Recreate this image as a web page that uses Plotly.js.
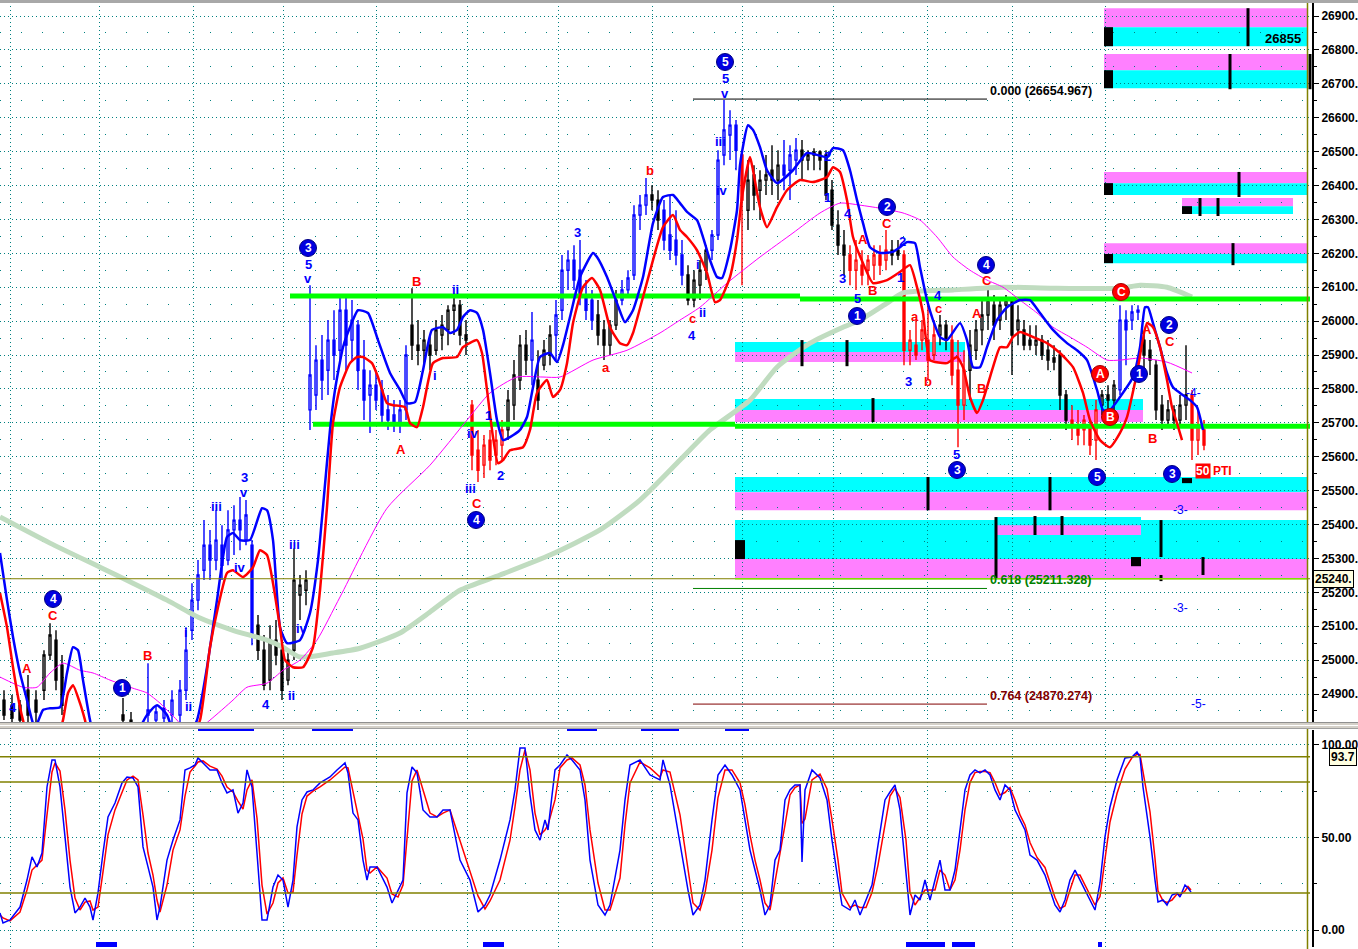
<!DOCTYPE html>
<html><head><meta charset="utf-8">
<script src="https://cdn.plot.ly/plotly-3.0.1.min.js"></script>
<style>html,body{margin:0;padding:0;background:#fff}#chart{width:1358px;height:949px}</style>
</head><body><div id="chart"></div>
<script>
// ---------------- DATA ----------------
const barX = [4,12,20,28,36,44,50,56,62,123,131,148,156,164,172,180,186,192,198,204,210,216,222,228,234,240,246,252,258,264,270,276,282,288,294,300,306,310,316,322,328,334,340,346,352,358,364,370,376,382,388,394,400,406,412,418,424,430,436,442,448,454,460,466,472,478,484,490,496,502,508,514,520,526,532,538,544,550,556,562,568,574,580,586,592,598,604,610,616,622,628,634,640,646,652,658,664,670,676,682,688,694,700,706,712,718,724,730,736,742,748,754,760,766,772,778,784,790,796,802,808,814,820,826,832,838,844,850,856,862,868,874,880,886,892,898,904,910,916,922,928,934,940,946,952,958,964,970,976,982,988,994,1000,1006,1012,1018,1024,1030,1036,1042,1048,1054,1060,1066,1072,1078,1084,1090,1096,1102,1108,1114,1120,1126,1132,1138,1144,1150,1156,1162,1168,1174,1180,1186,1192,1198,1204];
const barOpen = [24882,24867,24867,24911,24882,24911,25015,25059,24985,24838,24823,24838,24823,24829,24838,24838,24911,25088,25177,25265,25339,25295,25339,25295,25384,25413,25354,25339,25103,25029,24941,25059,25029,24941,25029,25192,25206,25738,25782,25885,25855,25944,25914,26032,25944,25988,25855,25782,25811,25797,25738,25723,25693,25738,25988,25929,25914,25929,25914,25959,25974,26032,26047,25959,25752,25619,25575,25649,25605,25634,25679,25752,25826,25929,25885,25826,25870,25900,25959,26032,26150,26180,26150,26077,26062,26018,25974,25929,25988,26062,26092,26136,26313,26342,26372,26357,26327,26254,26239,26195,26136,26062,26106,26150,26209,26254,26490,26549,26578,26490,26327,26431,26386,26416,26445,26416,26460,26445,26475,26504,26475,26490,26499,26490,26386,26283,26224,26195,26150,26165,26150,26165,26195,26180,26209,26209,26195,25914,25929,25944,25944,25900,25959,25988,25944,25855,25752,25855,25914,25974,26018,26047,26003,26047,26062,25974,25974,25944,25929,25944,25914,25891,25900,25782,25708,25693,25679,25693,25649,25752,25782,25767,25797,26003,26003,26027,25944,25914,25870,25752,25708,25738,25708,25752,25782,25649,25679];
const barHigh = [24911,24897,24882,24956,24911,25029,25109,25088,25015,24888,24847,24991,24867,24882,24911,24941,25097,25227,25295,25413,25384,25442,25398,25442,25457,25481,25472,25354,25133,25074,25103,25118,25059,25029,25330,25251,25265,26106,25929,25959,26003,26032,26077,26071,26062,26003,25944,25855,25855,25826,25782,25767,25767,25929,26097,26003,25974,25959,26003,26018,26047,26077,26062,26003,25767,25679,25664,25679,25679,25708,25797,25885,25959,25974,26027,25914,25944,25988,26062,26195,26209,26224,26239,26121,26092,26062,26003,26003,26092,26121,26150,26342,26372,26422,26401,26386,26357,26372,26327,26239,26165,26150,26180,26224,26269,26504,26652,26622,26593,26504,26475,26460,26445,26490,26519,26504,26534,26519,26540,26534,26504,26510,26504,26504,26416,26327,26269,26224,26239,26209,26195,26224,26224,26269,26239,26239,26209,25974,26003,26003,26062,26003,26018,26003,25988,25944,25914,25974,26003,26062,26092,26077,26062,26077,26062,26047,26003,25988,25988,25959,25944,25929,25914,25797,25752,25738,25723,25708,25767,25797,25811,25826,26047,26032,26047,26047,25959,25944,25885,25782,25767,25752,25782,25929,25797,25738,25708];
const barLow = [24823,24817,24817,24817,24817,24882,25000,24911,24838,24808,24794,24808,24808,24808,24808,24817,24882,25059,25147,25236,25236,25265,25236,25280,25310,25324,25339,25044,25000,24911,24911,24985,24882,24926,25000,25118,25162,25679,25738,25767,25782,25826,25885,25855,25885,25797,25708,25670,25738,25693,25679,25673,25670,25708,25885,25870,25870,25855,25900,25914,25929,25959,25929,25900,25560,25525,25537,25560,25575,25590,25649,25708,25797,25841,25811,25738,25855,25870,25885,26003,26092,26092,26047,26003,25974,25929,25885,25900,25974,26047,26077,26121,26269,26313,26327,26269,26209,26180,26165,26106,26047,26041,26062,26121,26180,26239,26460,26475,26445,26106,26269,26327,26298,26372,26372,26357,26386,26357,26431,26416,26445,26445,26445,26357,26269,26195,26136,26106,26092,26106,26106,26121,26136,26150,26165,26180,25870,25870,25885,25914,25826,25885,25929,25914,25811,25628,25708,25767,25885,25929,25974,25944,25974,26003,25841,25929,25914,25914,25900,25885,25855,25855,25738,25679,25649,25634,25634,25605,25590,25723,25738,25738,25782,25870,25974,26003,25855,25841,25708,25679,25693,25679,25693,25708,25590,25605,25619];
const barClose = [24838,24829,24823,24838,24847,25015,25074,24941,24867,24823,24808,24853,24847,24858,24882,24911,25029,25177,25251,25339,25295,25354,25280,25384,25413,25384,25428,25074,25029,24926,25059,25015,24911,25000,25236,25221,25236,25841,25885,25826,25944,25900,26032,25929,26003,25855,25767,25811,25767,25723,25708,25693,25738,25900,25929,25914,25944,25900,25974,25988,26032,26047,25959,25944,25605,25560,25634,25590,25649,25679,25767,25841,25929,25885,25944,25767,25914,25959,26018,26150,26180,26121,26077,26032,26003,25959,25929,25988,26062,26092,26127,26313,26342,26372,26357,26298,26239,26209,26195,26136,26062,26121,26150,26209,26254,26475,26564,26578,26504,26357,26416,26372,26416,26431,26416,26460,26431,26490,26504,26475,26490,26499,26475,26372,26283,26224,26195,26150,26180,26136,26180,26195,26165,26209,26195,26195,25914,25944,25900,25974,25885,25959,25988,25944,25841,25752,25855,25929,25974,26018,26062,25988,26047,26062,25959,26003,25929,25929,25944,25900,25885,25879,25782,25708,25693,25664,25708,25634,25738,25782,25767,25811,26003,25974,26027,26032,25900,25885,25738,25708,25738,25708,25752,25782,25649,25693,25634];
// candle colour group: k = black/white, b = blue wave, r = red wave
const barGroup = ("kkkkkkkkkkk" + "bbbbbbbbbbbbbbbbb" + "kkkkkkkkk" + "bbbbbbbbbbbbbbbbb" + "kkkkkkkkkk" + "rrrrrr" +
  "kkkk" + "b" + "kkk" + "bbbbbbb" + "kkkk" + "bbbbb" + "kk" + "bbbb" + "kkkk" + "bbbbb" + "r" + "kkkkkk" + "bbb" +
  "kkkkkkkk" + "rrrrrrr" + "kk" + "rrrrrr" + "kk" + "rrr" + "kkkkkkkkkkkkkkkkk" + "rrrrr" + "kkk" + "bbbb" + "kkkkkkkk" + "rrr").split('');

// upper (blue) band
const upperX = [0,7,13,20,27,32,35,43,50,60,67,73,78,83,90,95,120,147,157,167,180,197,207,217,227,233,240,250,262,267,273,280,287,300,310,318,323,330,335,343,350,358,368,378,390,400,407,415,423,432,443,450,457,463,470,477,483,490,497,503,510,520,527,533,540,550,557,563,570,580,593,597,607,617,625,633,643,653,663,673,680,687,697,703,710,717,722,730,737,740,748,753,760,767,777,793,807,827,833,843,850,857,863,870,880,893,900,907,915,920,927,933,940,947,960,967,973,980,987,997,1007,1020,1030,1040,1053,1067,1077,1087,1097,1103,1110,1120,1133,1140,1145,1148,1153,1160,1167,1173,1180,1190,1197,1203];
const upperBand = [25316,25177,25068,24962,24882,24823,24799,24853,24858,24861,24962,25038,25029,24941,24823,24764,24705,24838,24867,24838,24735,24823,24979,25177,25363,25375,25354,25354,25448,25442,25354,25097,25050,25059,25139,25295,25451,25679,25797,25923,25982,26032,26024,25944,25847,25797,25758,25761,25855,25974,25982,25965,25974,26012,26032,26024,25974,25847,25708,25649,25658,25679,25717,25805,25894,25906,25879,25929,26012,26130,26201,26189,26130,26053,25997,26032,26130,26289,26366,26372,26348,26322,26298,26248,26180,26130,26127,26209,26327,26460,26578,26564,26513,26445,26407,26445,26496,26484,26510,26504,26445,26357,26289,26218,26201,26204,26218,26233,26230,26159,26062,26003,25953,25944,25994,25944,25864,25864,25923,26003,26041,26062,26062,26024,25974,25935,25914,25885,25797,25738,25738,25776,25835,25923,26041,26041,25994,25923,25847,25805,25788,25767,25746,25679];
// lower (red) band
const lowerX = [0,7,13,20,23,30,55,63,68,73,80,85,90,190,200,210,218,227,233,243,253,260,267,273,280,285,293,303,313,320,327,333,340,350,357,363,372,378,387,393,405,410,417,423,433,443,457,463,477,482,487,493,498,503,510,523,530,537,547,553,560,567,573,583,592,600,610,620,627,633,643,653,663,673,680,687,697,707,715,720,730,737,742,750,753,760,767,777,787,800,813,827,833,840,847,853,863,873,887,900,910,917,923,930,947,957,963,970,977,983,993,1000,1007,1013,1020,1033,1047,1060,1073,1083,1090,1100,1110,1120,1127,1137,1147,1153,1160,1167,1172,1177,1182];
const lowerBand = [25198,25097,24979,24861,24823,24749,24749,24823,24903,24926,24873,24823,24764,24764,24823,25038,25156,25257,25265,25245,25274,25324,25310,25227,25097,25000,24979,24979,25038,25206,25451,25699,25805,25876,25894,25894,25876,25835,25758,25752,25746,25699,25687,25746,25876,25891,25894,25923,25944,25906,25797,25658,25581,25590,25619,25628,25679,25788,25826,25776,25797,25876,25994,26100,26127,26092,25982,25935,25929,25965,26071,26180,26277,26313,26269,26248,26209,26142,26056,26062,26130,26239,26366,26484,26445,26336,26277,26336,26386,26416,26410,26425,26454,26440,26357,26248,26171,26112,26121,26145,26165,26100,26024,25885,25876,25894,25864,25776,25729,25767,25864,25923,25923,25953,25968,25953,25935,25906,25864,25788,25708,25649,25628,25670,25717,25847,25994,25982,25923,25826,25746,25699,25649];
// thin magenta moving average
const maFastX = [0,23,37,50,63,80,93,110,133,147,160,170,177,190,210,233,247,267,283,300,317,340,387,430,467,490,517,543,560,593,627,660,680,700,727,760,793,820,840,860,880,903,920,937,953,970,987,1003,1020,1037,1053,1070,1087,1107,1120,1140,1167,1192];
const maFast = [24950,24920,24920,24962,24991,24970,24962,24941,24917,24903,24873,24844,24823,24779,24823,24882,24920,24932,24970,25000,25059,25186,25448,25575,25708,25788,25835,25835,25835,25885,25914,25965,26003,26041,26112,26189,26260,26319,26348,26342,26333,26319,26298,26248,26189,26150,26121,26100,26062,26024,25982,25953,25923,25885,25885,25891,25879,25847];
// thick pale green moving average
const maSlowX = [0,50,100,133,167,200,233,267,283,300,333,360,400,430,460,500,550,600,640,680,710,750,777,810,843,860,887,903,953,1003,1053,1120,1140,1167,1192];
const maSlow = [25422,25345,25274,25227,25177,25124,25088,25059,25038,25009,25021,25035,25080,25142,25206,25251,25310,25384,25472,25590,25679,25767,25864,25935,25982,26003,26053,26083,26092,26100,26097,26097,26106,26100,26071];

// horizontal support / resistance segments
const levelX0 = [290, 800, 313, 735];
const levelX1 = [800, 1310, 735, 1310];
const levelPrice = [26074, 26065, 25696, 25690];
// fibonacci levels
const fibRatio = ['0.000', '0.618', '0.764'];
const fibPrice = [26654.967, 25211.328, 24870.274];
const fibX0 = 693, fibX1 = 987;
const lastPrice = 25240;
const boxValue = 26855;

// projection zones (price bands)
const zoneX0 = [1104,1104,1104,1182,1104,735,735,735,735,996];
const zoneX1 = [1308,1308,1308,1293,1308,965,1143,1308,1308,1141];
const zoneHigh = [26923,26788,26440,26363,26230,25938,25770,25540,25413,25422];
const zoneMid  = [26867,26740,26407,26339,26198,25909,25738,25495,25298,25398];
const zoneLow  = [26811,26687,26372,26316,26171,25879,25702,25442,25242,25369];
const zoneTopKind = ['m','m','m','m','m','c','c','c','c','c'];
// black markers inside zones
const markX = [1248,1230,1310,1239,1200,1218,1233,802,847,873,928,1050,996,1035,1062,1161,1203,1161];
const markHigh = [26923,26788,26788,26440,26363,26363,26230,25944,25944,25773,25540,25540,25422,25425,25425,25413,25304,25251];
const markLow  = [26811,26684,26684,26366,26310,26310,26165,25867,25867,25702,25442,25442,25242,25369,25369,25304,25251,25233];
const blockX0 = [1104,1104,1104,1182,1104,735,1131,1182];
const blockX1 = [1113,1113,1113,1192,1113,745,1141,1192];
const blockHigh = [26867,26740,26407,26339,26198,25354,25304,25537];
const blockLow  = [26811,26687,26372,26316,26171,25298,25277,25522];

// stochastic
const stochX = [0,3,10,20,27,32,37,42,47,52,55,60,65,70,75,80,85,90,93,98,103,108,115,122,127,133,138,143,148,153,157,160,167,173,180,185,190,195,198,203,210,217,222,227,233,238,243,247,252,257,262,267,273,278,283,288,293,297,302,307,313,320,330,337,345,348,353,358,363,367,370,377,387,392,398,403,407,412,417,423,430,437,443,450,460,470,478,485,490,500,510,515,520,525,530,535,540,545,548,555,560,567,572,580,585,590,598,605,610,620,625,630,640,650,660,663,670,680,688,693,700,705,712,718,725,732,740,745,750,755,760,765,770,775,780,785,790,795,800,802,805,812,820,827,832,838,842,850,855,860,866,872,878,885,890,895,900,906,910,915,920,925,930,935,940,945,950,955,960,965,970,975,980,985,990,995,1000,1005,1010,1015,1020,1025,1030,1037,1045,1050,1055,1060,1065,1070,1075,1080,1085,1090,1095,1100,1105,1110,1117,1125,1132,1137,1140,1143,1150,1155,1158,1163,1167,1172,1177,1180,1185,1188,1191];
const stochK = [9.2,3.8,5.4,12.4,27.0,39.5,34.1,41.6,77.3,91.9,91.9,77.3,50.3,23.2,9.2,12.4,17.3,12.4,5.4,20.0,41.6,61.1,68.6,79.5,82.7,82.2,77.3,44.9,34.1,23.2,5.4,12.4,37.8,48.6,59.5,86.5,87.6,89.2,93.0,90.3,86.5,86.5,79.5,74.1,75.7,63.2,68.6,86.5,77.3,41.6,5.4,5.4,23.2,29.7,27.0,12.4,27.0,55.7,70.3,74.6,75.7,79.5,82.7,86.5,90.3,84.9,63.2,59.5,37.8,27.0,34.1,34.1,23.2,14.6,21.6,27.0,74.1,88.1,84.9,64.9,61.1,61.1,64.9,64.9,37.8,27.0,9.7,13.5,18.9,37.8,59.5,75.7,98.4,98.4,73.0,54.1,48.6,59.5,54.1,86.5,89.2,94.6,91.9,86.5,70.3,37.8,13.5,8.1,13.5,43.2,70.3,89.2,91.9,83.8,81.1,91.9,78.4,45.9,21.6,8.1,13.5,27.0,59.5,83.8,89.2,83.8,75.7,59.5,43.2,32.4,21.6,8.1,13.5,37.8,43.2,70.3,75.7,78.4,78.4,36.8,75.7,86.5,82.2,70.3,48.6,27.0,13.5,10.8,16.2,8.1,16.2,24.3,45.9,70.3,74.6,78.4,64.9,32.4,8.1,18.9,16.2,27.0,16.2,27.0,37.8,21.6,21.6,32.4,54.1,75.7,83.8,86.5,84.9,86.5,83.8,75.7,70.3,78.4,75.7,64.9,59.5,54.1,40.5,37.8,29.7,21.6,13.5,9.7,16.2,27.0,32.4,27.0,21.6,16.2,10.8,25.4,50.3,66.5,81.1,93.0,93.5,96.2,93.5,77.3,50.3,27.0,15.1,16.2,13.5,18.9,20.0,17.8,24.3,22.7,20.5];
const stochD = [8.1,6.5,4.9,9.7,21.6,32.4,35.1,37.8,62.2,85.4,90.3,85.9,64.9,37.8,17.3,10.8,15.1,15.7,10.8,12.4,31.4,51.4,64.9,74.6,81.1,83.2,81.1,62.2,41.6,29.7,16.2,9.7,24.3,43.2,54.1,72.4,85.4,88.6,90.8,91.4,88.6,87.0,83.2,77.3,74.6,69.7,65.4,75.7,81.1,60.5,24.3,8.6,14.6,25.4,28.1,20.0,20.5,40.5,62.7,72.4,75.1,77.3,81.1,84.3,88.1,87.6,74.6,61.6,49.2,32.4,30.8,34.1,28.1,19.5,17.8,24.3,48.6,80.5,86.5,75.1,63.2,61.1,63.2,64.9,48.6,31.4,18.4,11.4,15.7,27.0,48.6,66.5,86.5,97.3,86.5,63.2,51.4,54.1,56.8,70.3,87.6,91.9,93.0,89.2,78.4,54.1,25.4,10.8,10.8,28.1,56.8,79.5,90.8,87.6,82.7,86.5,85.4,62.2,33.8,14.6,10.8,20.0,43.2,71.6,86.5,86.5,79.5,67.6,51.4,37.8,27.0,14.6,10.8,25.4,40.5,56.8,73.0,77.0,78.4,57.6,60.0,81.1,84.3,76.2,59.5,37.8,20.0,12.2,13.5,12.2,12.2,20.3,35.1,58.1,72.4,76.5,71.6,48.6,20.3,13.5,17.6,21.6,21.6,21.6,32.4,29.7,21.6,27.0,43.2,64.9,79.7,85.1,85.7,85.7,85.1,79.7,73.0,74.3,77.0,70.3,62.2,56.8,47.3,39.2,33.8,25.7,17.6,11.6,13.0,21.6,29.7,29.7,24.3,18.9,13.5,18.1,37.8,58.4,73.8,87.0,93.2,94.9,94.9,85.4,63.8,38.6,21.1,15.7,14.9,16.2,19.5,18.9,21.1,23.5,21.6];
const stochLevels = [93.7, 80, 20];
const stochLast = 93.7;
// signal bars
const priceSignalX0 = [198,312,567,641,725];
const priceSignalX1 = [254,353,597,679,749];
const stochSignalX0 = [96,483,906,952,1098];
const stochSignalX1 = [117,504,945,975,1102];

// tick labels
const priceTicks = [24900,25000,25100,25200,25300,25400,25500,25600,25700,25800,25900,26000,26100,26200,26300,26400,26500,26600,26700,26800,26900];
const priceTickText = priceTicks.map(v => v + '.');
const stochTicks = [0, 50, 100];
const stochTickText = ['0.00', '50.00', '100.00'];
const gridX = [10,99,193,283,376,467,558,652,742,833,927,1012,1105];

// wave labels  [x, y(px), text]
const blueLabels = [[13,707,'4'],[186,632,'i'],[188,706,'ii'],[216,506,'iii'],[244,478,'3'],[244,492,'v'],[240,567,'iv'],[266,704,'4'],[291,695,'ii'],[294,544,'iii'],[302,628,'iv'],[308,265,'5'],[308,279,'v'],[435,375,'i'],[455,289,'ii'],[473,433,'iv'],[470,488,'iii'],[488,415,'1'],[500,475,'2'],[577,232,'3'],[692,335,'4'],[698,265,'i'],[702,312,'ii'],[720,142,'iii'],[722,191,'iv'],[725,79,'5'],[725,93,'v'],[827,157,'2'],[827,197,'1'],[848,213,'4'],[842,278,'3'],[857,299,'5'],[900,277,'1'],[902,241,'2'],[908,382,'3'],[938,295,'4'],[956,455,'5']];
const redLabels = [[27,668,'A'],[53,615,'C'],[147,655,'B'],[401,449,'A'],[416,282,'B'],[477,504,'C'],[606,368,'a'],[650,170,'b'],[692,318,'c'],[863,239,'A'],[872,290,'B'],[887,223,'C'],[915,317,'a'],[928,381,'b'],[938,308,'c'],[977,314,'A'],[981,388,'B'],[987,281,'C'],[1147,329,'A'],[1170,341,'C'],[1152,438,'B']];
const blueCircles = [[53,599,'4'],[122,688,'1'],[308,248,'3'],[476,520,'4'],[725,62,'5'],[857,316,'1'],[887,207,'2'],[957,470,'3'],[986,265,'4'],[1097,477,'5'],[1139,374,'1'],[1169,325,'2'],[1172,474,'3']];
const redCircles = [[1121,292,'C'],[1100,374,'A'],[1110,417,'B']];
const targetLabels = [[1193,393,'-4-'],[1180,510,'-3-'],[1180,608,'-3-'],[1198,704,'-5-']];

// ---------------- BUILD ----------------
const H = 949, PW = 1312;
const yp = py => 1 - py / H;
const FONT = 'Liberation Sans, Arial, sans-serif';

function candles(g, color, incFill, decFill) {
  const idx = [];
  for (let i = 0; i < barX.length; i++) if (barGroup[i] === g) idx.push(i);
  return {type:'candlestick', xaxis:'x', yaxis:'y',
    x: idx.map(i => barX[i]), open: idx.map(i => barOpen[i]), high: idx.map(i => barHigh[i]),
    low: idx.map(i => barLow[i]), close: idx.map(i => barClose[i]),
    increasing:{line:{color:color, width:1.4}, fillcolor:incFill},
    decreasing:{line:{color:color, width:1.4}, fillcolor:decFill},
    whiskerwidth:0, hoverinfo:'skip', showlegend:false};
}

const traces = [];
traces.push({type:'scatter', mode:'lines', x:maSlowX, y:maSlow, line:{color:'#c0dcc0', width:5, shape:'spline', smoothing:0.6}, hoverinfo:'skip'});
for (let i = 0; i < levelPrice.length; i++) {
  traces.push({type:'scatter', mode:'lines', x:[levelX0[i], levelX1[i]], y:[levelPrice[i], levelPrice[i]], line:{color:'#00ff00', width:5}, hoverinfo:'skip'});
}
traces.push({type:'scatter', mode:'lines', x:maFastX, y:maFast, line:{color:'#ff00ff', width:1, shape:'spline', smoothing:0.6}, hoverinfo:'skip'});
traces.push(candles('k', '#000000', '#ffffff', '#000000'));
traces.push(candles('b', '#0000ff', '#ffffff', '#0000ff'));
traces.push(candles('r', '#ff0000', '#ffffff', '#ff0000'));
traces.push({type:'scatter', mode:'lines', x:upperX, y:upperBand, line:{color:'#0000ff', width:2.5, shape:'spline', smoothing:0.5}, hoverinfo:'skip'});
traces.push({type:'scatter', mode:'lines', x:lowerX, y:lowerBand, line:{color:'#ff0000', width:2.5, shape:'spline', smoothing:0.5}, hoverinfo:'skip'});
traces.push({type:'scatter', mode:'lines', x:stochX, y:stochD, xaxis:'x', yaxis:'y2', line:{color:'#ff0000', width:1.5}, hoverinfo:'skip'});
traces.push({type:'scatter', mode:'lines', x:stochX, y:stochK, xaxis:'x', yaxis:'y2', line:{color:'#0000ff', width:1.5}, hoverinfo:'skip'});

const shapes = [];
const CYAN = '#00ffff', MAG = '#ff80ff';
for (let i = 0; i < zoneX0.length; i++) {
  const top = zoneTopKind[i] === 'm' ? MAG : CYAN, bot = zoneTopKind[i] === 'm' ? CYAN : MAG;
  shapes.push({type:'rect', layer:'below', xref:'x', yref:'y', x0:zoneX0[i], x1:zoneX1[i], y0:zoneMid[i], y1:zoneHigh[i], fillcolor:top, line:{width:0}});
  shapes.push({type:'rect', layer:'below', xref:'x', yref:'y', x0:zoneX0[i], x1:zoneX1[i], y0:zoneLow[i], y1:zoneMid[i], fillcolor:bot, line:{width:0}});
}
for (let i = 0; i < markX.length; i++) {
  shapes.push({type:'line', xref:'x', yref:'y', x0:markX[i], x1:markX[i], y0:markLow[i], y1:markHigh[i], line:{color:'#000', width:3}});
}
for (let i = 0; i < blockX0.length; i++) {
  shapes.push({type:'rect', xref:'x', yref:'y', x0:blockX0[i], x1:blockX1[i], y0:blockLow[i], y1:blockHigh[i], fillcolor:'#000', line:{width:0}});
}
// fib lines
const fibColors = ['#000000', '#008000', '#800000'];
for (let i = 0; i < fibPrice.length; i++) {
  shapes.push({type:'line', xref:'x', yref:'y', x0:fibX0, x1:fibX1, y0:fibPrice[i], y1:fibPrice[i], line:{color:fibColors[i], width:1}});
}
// current price line + stoch levels
shapes.push({type:'line', xref:'x', yref:'y', x0:0, x1:1310, y0:lastPrice, y1:lastPrice, line:{color:'#808000', width:1}});
shapes.push({type:'line', xref:'x', yref:'y', x0:735, x1:1308, y0:lastPrice, y1:lastPrice, line:{color:'#80e000', width:1.5}});
stochLevels.forEach(v => shapes.push({type:'line', xref:'x', yref:'y2', x0:0, x1:1310, y0:v, y1:v, line:{color:'#808000', width:1.5}}));
// vertical olive line near the axis
shapes.push({type:'line', xref:'x', yref:'paper', x0:1307.5, x1:1307.5, y0:0, y1:1, line:{color:'#808000', width:1.5}});
// signal bars
for (let i = 0; i < priceSignalX0.length; i++)
  shapes.push({type:'rect', xref:'x', yref:'paper', x0:priceSignalX0[i], x1:priceSignalX1[i], y0:yp(731), y1:yp(727), fillcolor:'#0000ff', line:{width:0}});
for (let i = 0; i < stochSignalX0.length; i++)
  shapes.push({type:'rect', xref:'x', yref:'paper', x0:stochSignalX0[i], x1:stochSignalX1[i], y0:yp(947), y1:yp(942), fillcolor:'#0000ff', line:{width:0}});
// panel separators / borders
shapes.push({type:'rect', xref:'paper', yref:'paper', x0:0, x1:1358/PW, y0:yp(3), y1:1, fillcolor:'#a8a8a8', line:{width:0}});
shapes.push({type:'rect', xref:'paper', yref:'paper', x0:0, x1:1358/PW, y0:yp(729), y1:yp(722), fillcolor:'#d4d0c8', line:{width:0}});
shapes.push({type:'line', xref:'paper', yref:'paper', x0:0, x1:1358/PW, y0:yp(722.5), y1:yp(722.5), line:{color:'#909090', width:1}});
shapes.push({type:'line', xref:'paper', yref:'paper', x0:0, x1:1358/PW, y0:yp(725.5), y1:yp(725.5), line:{color:'#ffffff', width:1}});
shapes.push({type:'line', xref:'paper', yref:'paper', x0:0, x1:1358/PW, y0:yp(728.5), y1:yp(728.5), line:{color:'#a0a0a0', width:1}});
// wave circles
function circle(c, fill, edge) {
  shapes.push({type:'circle', xref:'x', yref:'paper', xsizemode:'pixel', ysizemode:'pixel', xanchor:c[0], yanchor:yp(c[1]),
    x0:-8.5, x1:8.5, y0:-8.5, y1:8.5, fillcolor:fill, line:{color:edge, width:1}});
}
blueCircles.forEach(c => circle(c, '#0000e0', '#000080'));
redCircles.forEach(c => circle(c, '#ff0000', '#a00000'));

const annotations = [];
function lab(x, py, text, color, size, weight, extra) {
  annotations.push(Object.assign({x:x, xref:'x', y:yp(py), yref:'paper', text:text, showarrow:false,
    xanchor:'center', yanchor:'middle', font:{family:FONT, size:size || 13, color:color, weight:weight || 'bold'}}, extra || {}));
}
blueLabels.forEach(l => lab(l[0], l[1], l[2], '#0000ff'));
redLabels.forEach(l => lab(l[0], l[1], l[2], '#ff0000'));
blueCircles.forEach(c => lab(c[0], c[1], c[2], '#ffffff', 12));
redCircles.forEach(c => lab(c[0], c[1], c[2], '#ffffff', 12));
targetLabels.forEach(l => lab(l[0], l[1], l[2], '#0000ff', 12, 'normal'));
// fib labels
for (let i = 0; i < fibPrice.length; i++) {
  annotations.push({x:fibX1 + 1, xref:'x', y:fibPrice[i], yref:'y', yshift:8, xanchor:'left', yanchor:'middle', showarrow:false,
    text: fibRatio[i] + ' (' + fibPrice[i].toFixed(3) + ')', font:{family:FONT, size:12.5, color:fibColors[i], weight:'bold'}});
}
lab(1283, 39, String(boxValue), '#000000', 13);
// 50 PTI
annotations.push({x:1203, xref:'x', y:yp(471), yref:'paper', text:'50', showarrow:false, xanchor:'center', yanchor:'middle',
  bgcolor:'#ff0000', borderpad:0, font:{family:FONT, size:12, color:'#ffffff', weight:'bold'}});
lab(1222, 471, 'PTI', '#ff0000', 12);
// current value boxes at the right axis
annotations.push({x:1313/PW, xref:'paper', y:lastPrice, yref:'y', text:String(lastPrice) + '.', showarrow:false, xanchor:'left', yanchor:'middle',
  bgcolor:'#ffffe1', bordercolor:'#000000', borderwidth:1, borderpad:1, font:{family:FONT, size:12, color:'#000', weight:'bold'}});
annotations.push({x:1357/PW, xref:'paper', y:stochLast, yref:'y2', text:String(stochLast), showarrow:false, xanchor:'right', yanchor:'middle',
  bgcolor:'#ffffe1', bordercolor:'#000000', borderwidth:1, borderpad:1, font:{family:FONT, size:12, color:'#000', weight:'bold'}});

const minorPrice = priceTicks.slice(0, -1).map(v => v + 50).concat([24850]);
const axisFont = {family:FONT, size:12, color:'#000', weight:'bold'};
const layout = {
  width:1358, height:949, margin:{l:0, r:46, t:0, b:0}, paper_bgcolor:'#ffffff', plot_bgcolor:'#ffffff',
  showlegend:false, hovermode:false, boxmode:'overlay', dragmode:false,
  xaxis:{range:[0, PW], anchor:'y', tickvals:gridX, showticklabels:false, ticks:'', showgrid:true, gridcolor:'#008080',
    griddash:'1px,3px', gridwidth:1, zeroline:false, showline:false, rangeslider:{visible:false}, fixedrange:true},
  yaxis:{domain:[1 - 722 / H, 1 - 2 / H], range:[24817.4, 26941.3], side:'right', anchor:'x',
    tickvals:priceTicks, ticktext:priceTickText, ticks:'outside', ticklen:5, tickwidth:1, tickcolor:'#000',
    showline:true, linecolor:'#000', linewidth:2, showgrid:true, gridcolor:'#008080', griddash:'1px,3px', zeroline:false,
    tickfont:axisFont, fixedrange:true,
    minor:{tickvals:minorPrice, ticks:'outside', ticklen:3, tickcolor:'#000', showgrid:true, gridcolor:'#008080', griddash:'1px,20px'}},
  yaxis2:{domain:[1 - 947 / H, 1 - 730 / H], range:[-9.19, 108.1], side:'right', anchor:'x',
    tickvals:stochTicks, ticktext:stochTickText, ticks:'outside', ticklen:5, tickwidth:1, tickcolor:'#000',
    showline:true, linecolor:'#000', linewidth:2, showgrid:true, gridcolor:'#008080', griddash:'1px,3px', zeroline:false,
    tickfont:axisFont, fixedrange:true,
    minor:{tickvals:[25, 75], ticks:'outside', ticklen:3, tickcolor:'#000', showgrid:true, gridcolor:'#008080', griddash:'1px,20px'}},
  shapes:shapes, annotations:annotations
};
if (barGroup.length !== barX.length) console.error('group length mismatch', barGroup.length, barX.length);
Plotly.newPlot('chart', traces, layout, {displayModeBar:false, staticPlot:true});
</script>
</body></html>
